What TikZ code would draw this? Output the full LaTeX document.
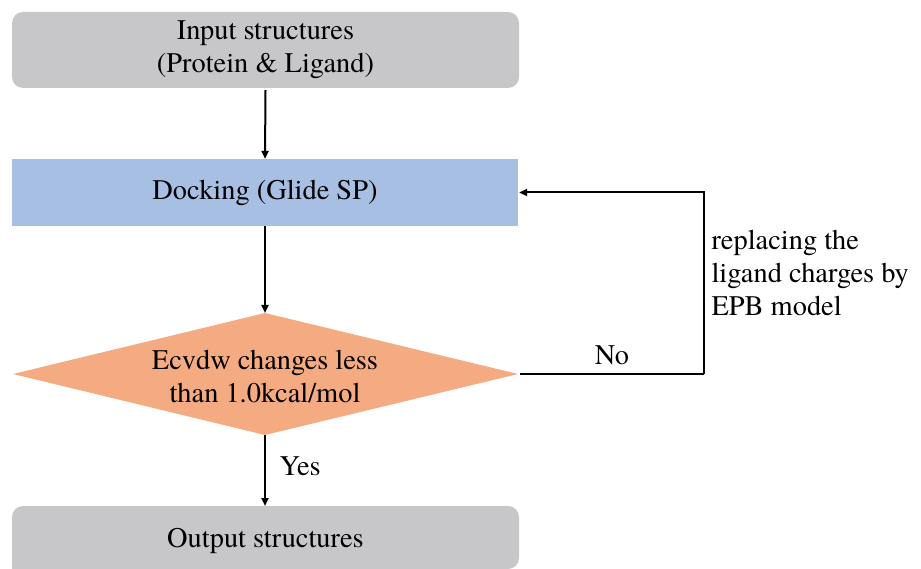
\documentclass[tikz,border=0pt]{standalone}
\usepackage{fontspec}
\setmainfont{TeX Gyre Termes}
\usetikzlibrary{arrows.meta}
\definecolor{boxgray}{RGB}{199,199,202}
\definecolor{boxblue}{RGB}{168,191,228}
\definecolor{diaorange}{RGB}{244,171,130}
\tikzset{
  base/.style={font=\fontsize{28.4}{33}\selectfont, align=center},
  graybox/.style={base, fill=boxgray, rounded corners=11pt},
  bluebox/.style={base, fill=boxblue},
  lbl/.style={base},
  arr/.style={draw=black, line width=2pt, -{Triangle[length=8pt,width=7pt]}},
  plain/.style={draw=black, line width=2pt}
}
\begin{document}
\begin{tikzpicture}[x=1pt,y=-1pt]
\useasboundingbox (0,0) rectangle (921,569);
\node[graybox, minimum width=507pt, minimum height=76pt] (inp) at (265.5,50) {Input structures\\(Protein \& Ligand)};
\node[bluebox, minimum width=506pt, minimum height=67pt] (dock) at (265,192.5) {Docking (Glide SP)};
\coordinate (dtop) at (265,313);
\coordinate (dright) at (518,374);
\coordinate (dbot) at (265,435);
\coordinate (dleft) at (13,374);
\fill[diaorange] (dtop) -- (dright) -- (dbot) -- (dleft) -- cycle;
\node[lbl] (dec) at (265,376) {Ecvdw changes less\\than 1.0kcal/mol};
\fill[boxgray, rounded corners=11pt] (12,506) -- (519,506) -- (519,569) [sharp corners] -- (12,569) [rounded corners=11pt] -- cycle;
\node[base] (out) at (265.5,541) {Output structures};
\coordinate (outtop) at (265,506);
\coordinate (corner) at (704,374);
\draw[arr] ([yshift=-2pt]inp.south) -- (dock.north);
\draw[arr] (dock.south) -- (dtop);
\draw[arr] (dbot) -- (outtop);
\node[lbl, anchor=west] (yes) at (276,466) {Yes};
\draw[plain] ([xshift=2pt]dright) -- (corner);
\draw[arr] (corner) |- ([xshift=1pt]dock.east);
\node[lbl] (no) at (612,355) {No};
\node[lbl, anchor=west, align=left] (repl) at (708,273) {replacing the\\ligand charges by\\EPB model};
\end{tikzpicture}
\end{document}
